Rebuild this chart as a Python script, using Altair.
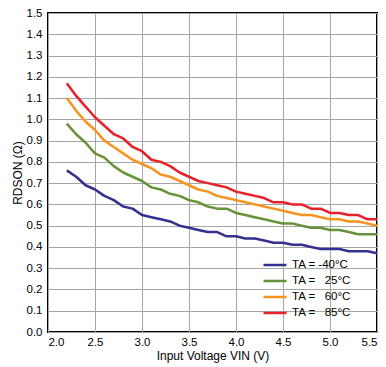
import altair as alt
import pandas as pd

vin = [2.2, 2.3, 2.4, 2.5, 2.6, 2.7, 2.8, 2.9, 3.0, 3.1, 3.2, 3.3, 3.4, 3.5, 3.6, 3.7, 3.8,
       3.9, 4.0, 4.1, 4.2, 4.3, 4.4, 4.5, 4.6, 4.7, 4.8, 4.9, 5.0, 5.1, 5.2, 5.3, 5.4, 5.5]

r_m40 = [0.76, 0.73, 0.69, 0.67, 0.64, 0.62, 0.59, 0.58, 0.55, 0.54, 0.53, 0.52, 0.50, 0.49,
         0.48, 0.47, 0.47, 0.45, 0.45, 0.44, 0.44, 0.43, 0.42, 0.42, 0.41, 0.41, 0.40, 0.39,
         0.39, 0.39, 0.38, 0.38, 0.38, 0.37]
r_25 = [0.98, 0.93, 0.89, 0.84, 0.82, 0.78, 0.75, 0.73, 0.71, 0.68, 0.67, 0.65, 0.64, 0.62,
        0.61, 0.59, 0.58, 0.58, 0.56, 0.55, 0.54, 0.53, 0.52, 0.51, 0.51, 0.50, 0.49, 0.49,
        0.48, 0.48, 0.47, 0.46, 0.46, 0.46]
r_60 = [1.10, 1.04, 0.99, 0.95, 0.90, 0.87, 0.84, 0.81, 0.79, 0.77, 0.74, 0.73, 0.71, 0.69,
        0.67, 0.66, 0.64, 0.63, 0.62, 0.61, 0.60, 0.59, 0.58, 0.57, 0.56, 0.55, 0.55, 0.54,
        0.53, 0.53, 0.52, 0.52, 0.51, 0.50]
r_85 = [1.17, 1.11, 1.06, 1.01, 0.97, 0.93, 0.91, 0.87, 0.85, 0.81, 0.80, 0.78, 0.75, 0.73,
        0.71, 0.70, 0.69, 0.68, 0.66, 0.65, 0.64, 0.63, 0.61, 0.61, 0.60, 0.60, 0.58, 0.58,
        0.56, 0.56, 0.55, 0.55, 0.53, 0.53]

series_names = ["TA = -40°C", "TA = \u00a0\u00a025°C", "TA = \u00a0\u00a060°C", "TA = \u00a0\u00a085°C"]
series_values = [r_m40, r_25, r_60, r_85]
colors = ["#33308f", "#67923a", "#f7931e", "#e8202a"]

rows = []
for name, vals in zip(series_names, series_values):
    for v, r in zip(vin, vals):
        rows.append({"vin": v, "r": r, "series": name})
df = pd.DataFrame(rows)

x_ticks = [2.0, 2.5, 3.0, 3.5, 4.0, 4.5, 5.0, 5.5]
y_ticks = [round(i * 0.1, 1) for i in range(16)]

chart = alt.Chart(df).mark_line(strokeWidth=2.5, strokeJoin="round").encode(
    x=alt.X("vin:Q", scale=alt.Scale(domain=[2.0, 5.5], nice=False),
            axis=alt.Axis(values=x_ticks, format=".1f", title="Input Voltage VIN (V)")),
    y=alt.Y("r:Q", scale=alt.Scale(domain=[0, 1.5], nice=False),
            axis=alt.Axis(values=y_ticks, format=".1f", title="RDSON (Ω)")),
    color=alt.Color("series:N", sort=series_names,
                    scale=alt.Scale(domain=series_names, range=colors),
                    legend=alt.Legend(title=None, orient="none", legendX=220, legendY=245,
                                      symbolType="M-2,0H2", symbolSize=132,
                                      symbolStrokeWidth=2.5, labelFontSize=11.5,
                                      labelFont="Liberation Sans", labelColor="#000",
                                      rowPadding=3, labelOffset=10, padding=0)),
).properties(
    width=329, height=319, padding={"left": 40, "top": 5, "right": 1, "bottom": 35},
    autosize=alt.AutoSizeParams(type="none"),
).configure_view(
    stroke="#000", strokeWidth=2,
).configure_axis(
    grid=True, gridColor="#a6a6a6", gridWidth=1, domain=False, ticks=False,
    labelFont="Liberation Sans", labelFontSize=11.5, labelColor="#000",
    titleFont="Liberation Sans", titleFontSize=12, titleColor="#000", titleFontWeight="normal",
).configure_axisX(labelPadding=4, titlePadding=3).configure_axisY(labelPadding=6, titlePadding=2)

chart.save("out.html", embed_options={"renderer": "svg", "actions": False})
